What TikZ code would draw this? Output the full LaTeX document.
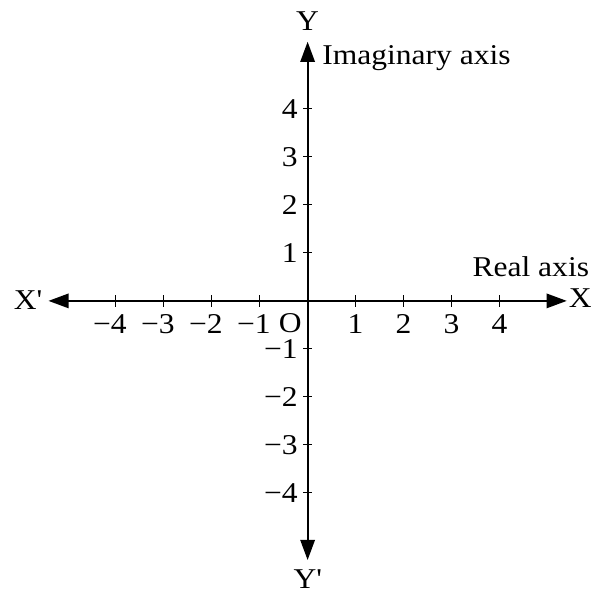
\documentclass[tikz,border=0pt]{standalone}
\usepackage{fontspec}
\setmainfont[FakeStretch=1.1]{Liberation Serif}
\usepackage{tikz}
\usetikzlibrary{arrows.meta,positioning}
\tikzset{
  axis/.style={line width=1.1pt, {Triangle[length=4.2mm,width=3mm]}-{Triangle[length=4.2mm,width=3mm]}},
  tickmark/.style={line width=0.6pt},
  lab/.style={inner sep=0pt},
}
\begin{document}
\begin{tikzpicture}[font=\fontsize{17}{20}\selectfont]
        \useasboundingbox (-6.41,-6.125) rectangle (6.03,6.27);
        \coordinate (xl) at (-5.4,0); \coordinate (xr) at (5.4,0);
        \coordinate (yt) at (0,5.4); \coordinate (yb) at (0,-5.4);
        \draw[axis] (xl) -- (xr);
        \draw[axis] (yb) -- (yt);
        % ticks and numbers
        \foreach \x in {1,...,4} {
          \draw[tickmark] (\x,-0.12) -- (\x,0.12);
          \draw[tickmark] (-\x,-0.12) -- (-\x,0.12);
          \draw[tickmark] (-0.09,\x) -- (0.09,\x);
          \draw[tickmark] (-0.09,-\x) -- (0.09,-\x);
          \node[lab] (xp\x) at (\x,-0.48) {\x};
          \node[lab] (xn\x) at ({-\x-0.12},-0.48) {−\x};
          \node[lab, anchor=east] (yp\x) at (-0.2,\x) {\x};
          \node[lab, anchor=east] (yn\x) at (-0.2,-\x) {−\x};
        }
        \node[lab] (O) at (-0.36,-0.47) {O};
        \node[lab] (X) at (5.68,0.05) {X};
        \node[lab] (Xp) at (-5.83,0.02) {X\textquotesingle};
        \node[lab] (Y) at (0,5.82) {Y};
        \node[lab] (Yp) at (0,-5.8) {Y\textquotesingle};
        \node[lab, anchor=base west] (imag) at (0.30,4.92) {Imaginary axis};
        \node[lab, anchor=base west] (real) at (3.43,0.5) {Real axis};
      \end{tikzpicture}
\end{document}
